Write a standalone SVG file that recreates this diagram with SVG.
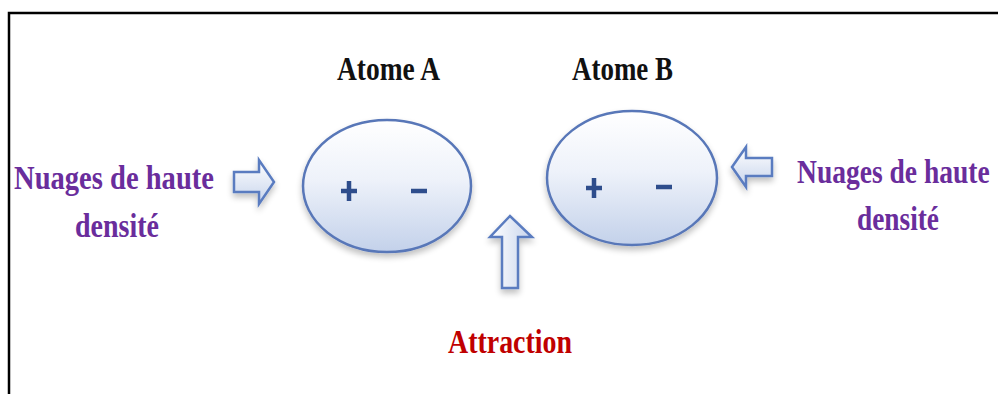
<svg xmlns="http://www.w3.org/2000/svg" width="998" height="394" viewBox="0 0 998 394">
  <defs>
    <linearGradient id="atomFill" x1="0" y1="0" x2="0" y2="1">
      <stop offset="0" stop-color="#ffffff"/>
      <stop offset="0.45" stop-color="#eef2fa"/>
      <stop offset="1" stop-color="#c3d1ea"/>
    </linearGradient>
    <linearGradient id="arrowFillH" x1="0" y1="0" x2="0" y2="1">
      <stop offset="0" stop-color="#ffffff"/>
      <stop offset="1" stop-color="#c7d4ec"/>
    </linearGradient>
    <linearGradient id="arrowFillV" x1="0" y1="0" x2="1" y2="0">
      <stop offset="0" stop-color="#ffffff"/>
      <stop offset="1" stop-color="#c7d4ec"/>
    </linearGradient>
    <filter id="shadow" x="-20%" y="-20%" width="140%" height="150%">
      <feGaussianBlur in="SourceAlpha" stdDeviation="3"/>
      <feOffset dx="0" dy="4" result="b"/>
      <feComponentTransfer><feFuncA type="linear" slope="0.25"/></feComponentTransfer>
      <feMerge><feMergeNode/><feMergeNode in="SourceGraphic"/></feMerge>
    </filter>
  </defs>
  <style>
    .lbl { font-family: "Liberation Serif", "Times New Roman", serif; font-weight: bold; font-size: 34px; }
    .black { fill: #111111; }
    .purple { fill: #6a2d9c; }
    .red { fill: #c00000; }
    .atom { fill: url(#atomFill); stroke: #5877b8; stroke-width: 2.5; }
    .sign { stroke: #2e4d8c; stroke-width: 4.5; stroke-linecap: butt; fill: none; }
    .arrowH { fill: url(#arrowFillH); stroke: #5a7cc0; stroke-width: 2.5; stroke-linejoin: miter; }
    .arrowV { fill: url(#arrowFillV); stroke: #5a7cc0; stroke-width: 2.5; stroke-linejoin: miter; }
  </style>

  <!-- frame -->
  <path d="M9 394 V13 H998" fill="none" stroke="#000" stroke-width="2.5"/>

  <g id="label-atomeA">
    <text class="lbl black" x="337" y="80" textLength="103" lengthAdjust="spacingAndGlyphs">Atome A</text>
  </g>
  <g id="label-atomeB">
    <text class="lbl black" x="572" y="80" textLength="101" lengthAdjust="spacingAndGlyphs">Atome B</text>
  </g>

  <g id="atomA" filter="url(#shadow)">
    <ellipse class="atom" cx="387" cy="186" rx="84" ry="66"/>
    <path class="sign" d="M341 191 H357 M349 181 V201"/>
    <path class="sign" d="M411 191 H427"/>
  </g>
  <g id="atomB" filter="url(#shadow)">
    <ellipse class="atom" cx="632" cy="178" rx="85" ry="67"/>
    <path class="sign" d="M586 188 H602 M594 178 V198"/>
    <path class="sign" d="M656 187 H672"/>
  </g>

  <g id="left-cloud">
    <text class="lbl purple" x="14" y="189" textLength="200" lengthAdjust="spacingAndGlyphs">Nuages de haute</text>
    <text class="lbl purple" x="75" y="237" textLength="84" lengthAdjust="spacingAndGlyphs">densité</text>
  </g>
  <g id="right-cloud">
    <text class="lbl purple" transform="translate(797,183) scale(0.81,1)">Nuages de haute</text>
    <text class="lbl purple" x="857" y="230" textLength="82" lengthAdjust="spacingAndGlyphs">densité</text>
  </g>
  <g id="attraction">
    <text class="lbl red" x="448" y="353" textLength="124" lengthAdjust="spacingAndGlyphs">Attraction</text>
  </g>

  <g id="connectors" filter="url(#shadow)">
    <path class="arrowH" d="M234 172 H259 V160 L274 182 L259 204 V192 H234 Z"/>
    <path class="arrowH" d="M772 158 H746 V147 L732 167 L746 187 V176 H772 Z"/>
    <path class="arrowV" d="M502 288 V237 H490 L510 216 L532 237 H518 V288 Z"/>
  </g>
</svg>
